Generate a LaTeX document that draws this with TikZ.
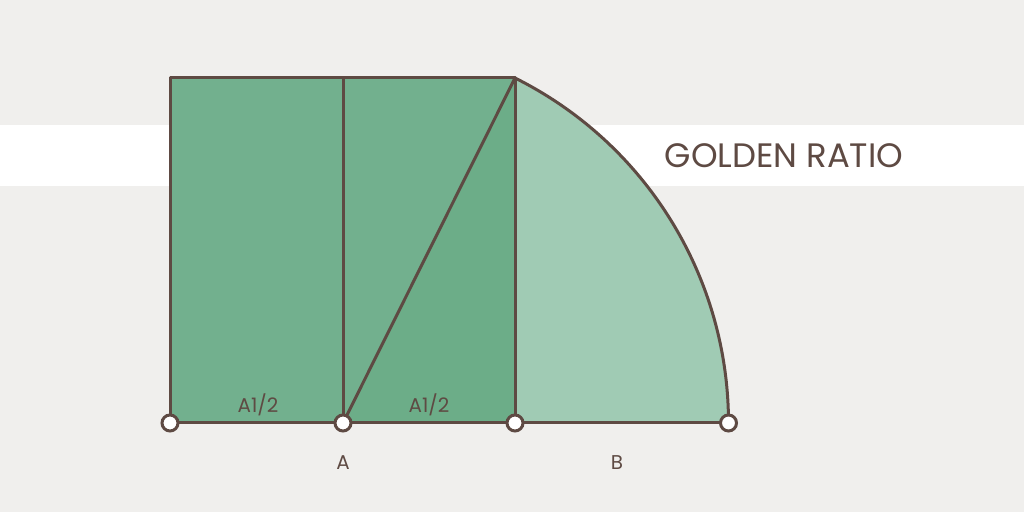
\documentclass[tikz,border=0pt]{standalone}
\usepackage{fontspec}
\setmainfont{Poppins}
\definecolor{bgcol}{HTML}{F0EFED}
\definecolor{linecol}{HTML}{5E4A43}
\definecolor{greenA}{HTML}{72B08E}
\definecolor{greenB}{HTML}{6CAD88}
\definecolor{greenC}{HTML}{A0CBB4}
\tikzset{
    dot/.style = {circle, draw=linecol, fill=white, line width=3bp, inner sep=0pt, minimum size=16bp},
    lbl/.style = {text=linecol, font=\fontsize{20}{22}\selectfont},
    edge/.style = {draw=linecol, line width=3bp, line join=round}
}
\begin{document}
\begin{tikzpicture}[x=1bp, y=1bp]
        \useasboundingbox (0,0) rectangle (1024,512);
        \fill[bgcol] (0,0) rectangle (1024,512);
        \fill[white] (0,326) rectangle (1024,387);
        \coordinate (tl) at (170,434);
        \coordinate (tm) at (343,434);
        \coordinate (tr) at (515,434);
        \coordinate (c0) at (170,89);
        \coordinate (ca) at (343,89);
        \coordinate (cb) at (515,89);
        \coordinate (ce) at (728.5,89);
        % areas
        \fill[greenC] (ca) -- (tr) arc[start angle=63.5, end angle=0, radius=385.5] -- cycle;
        \fill[greenA] (c0) rectangle (tr);
        \fill[greenB] (ca) -- (tr) -- (cb) -- cycle;
        % lines
        \draw[edge] (tr) arc[start angle=63.5, end angle=0, radius=385.5];
        \draw[edge] (c0) -- (tl) -- (tr) -- (cb);
        \draw[edge] (tm) -- (ca);
        \draw[edge] (ca) -- (tr);
        \draw[edge] (c0) -- (ce);
        % points
        \node[dot] (p0) at (c0) {};
        \node[dot] (pa) at (ca) {};
        \node[dot] (pb) at (cb) {};
        \node[dot] (pe) at (ce) {};
        % labels
        \node[lbl] (half1) at (258,107) {A1/2};
        \node[lbl] (half2) at (429,107) {A1/2};
        \node[lbl] (la) at (343,49) {A};
        \node[lbl] (lb) at (617,49) {B};
        \node[text=linecol, font=\fontsize{34}{36}\selectfont] (title) at (784,356) {GOLDEN RATIO};
\end{tikzpicture}
\end{document}
